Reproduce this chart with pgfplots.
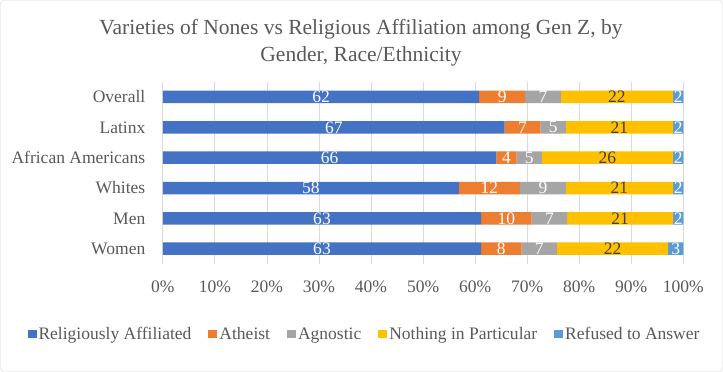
\documentclass[border=0pt]{standalone}
\usepackage{pgfplots}
\usepackage{pgfplotstable}
\pgfplotsset{compat=1.18}
\usepackage{fontspec}
\setmainfont{Liberation Serif}
\definecolor{cRel}{HTML}{4472C4}
\definecolor{cAth}{HTML}{ED7D31}
\definecolor{cAgn}{HTML}{A5A5A5}
\definecolor{cNip}{HTML}{FFC000}
\definecolor{cRef}{HTML}{5B9BD5}
\definecolor{txtgray}{HTML}{595959}
\definecolor{darktxt}{HTML}{404040}
\definecolor{gridc}{HTML}{D9D9D9}
\pgfplotstableread{
idx rel ath agn nip ref
5 62 9 7 22 2
4 67 7 5 21 2
3 66 4 5 26 2
2 58 12 9 21 2
1 63 10 7 21 2
0 63 8 7 22 3
}\data
\newcommand{\tot}{(\thisrow{rel}+\thisrow{ath}+\thisrow{agn}+\thisrow{nip}+\thisrow{ref})}
\pgfplotsset{
  common/.style={
    at={(163pt,108pt)}, anchor=south west, scale only axis,
    width=520pt, height=182pt,
    xmin=0, xmax=100, ymin=-0.5, ymax=5.5,
    /pgf/number format/assume math mode=true,
  },
}
\begin{document}
\begin{tikzpicture}
\draw[gridc, rounded corners=4pt, fill=white] (0.5pt,0.5pt) rectangle (722.5pt,371.5pt);
\node[font=\fontsize{21.5}{27}\selectfont, text=txtgray, align=center] at (361pt,328.5pt)
  {Varieties of Nones vs Religious Affiliation among Gen Z, by\\Gender, Race/Ethnicity};
\begin{axis}[common,
  xbar stacked, bar width=12.5pt,
  axis line style={draw=none},
  major tick length=0pt,
  xmajorgrids, grid style={gridc, line width=0.8pt},
  xtick={0,10,...,100},
  xticklabel={\pgfmathprintnumber{\tick}\%},
  ytick={0,1,2,3,4,5},
  yticklabels={Women,Men,Whites,African Americans,Latinx,Overall},
  tick label style={font=\fontsize{17.5}{19}\selectfont, text=txtgray},
  xticklabel style={yshift=-13pt},
  yticklabel style={xshift=-14pt},
  legend style={at={(0.3875,-0.385)}, anchor=center, draw=none, fill=none,
    legend columns=5, font=\fontsize{17.5}{19}\selectfont, text=txtgray,
    /tikz/every even column/.append style={column sep=15pt},
    /tikz/every odd column/.append style={column sep=0pt}},
  legend image code/.code={\fill[#1] (0pt,-4pt) rectangle (9pt,4pt);},
]
\addplot[fill=cRel, draw=none] table[x expr={\thisrow{rel}/\tot*100}, y=idx] {\data};
\addplot[fill=cAth, draw=none] table[x expr={\thisrow{ath}/\tot*100}, y=idx] {\data};
\addplot[fill=cAgn, draw=none] table[x expr={\thisrow{agn}/\tot*100}, y=idx] {\data};
\addplot[fill=cNip, draw=none] table[x expr={\thisrow{nip}/\tot*100}, y=idx] {\data};
\addplot[fill=cRef, draw=none] table[x expr={\thisrow{ref}/\tot*100}, y=idx] {\data};
\legend{Religiously Affiliated, Atheist, Agnostic, Nothing in Particular, Refused to Answer}
\end{axis}
\begin{axis}[common, hide axis,
  nodes near coords={\pgfmathprintnumber{\pgfplotspointmeta}},
  every node near coord/.append style={anchor=center, font=\fontsize{17.5}{19}\selectfont, inner sep=0pt},
]
\addplot[draw=none, mark=none, point meta=explicit, nodes near coords style={text=white}]
  table[x expr={\thisrow{rel}/2/\tot*100}, y=idx, meta=rel] {\data};
\addplot[draw=none, mark=none, point meta=explicit, nodes near coords style={text=white}]
  table[x expr={(\thisrow{rel}+\thisrow{ath}/2)/\tot*100}, y=idx, meta=ath] {\data};
\addplot[draw=none, mark=none, point meta=explicit, nodes near coords style={text=white}]
  table[x expr={(\thisrow{rel}+\thisrow{ath}+\thisrow{agn}/2)/\tot*100}, y=idx, meta=agn] {\data};
\addplot[draw=none, mark=none, point meta=explicit, nodes near coords style={text=darktxt}]
  table[x expr={(\thisrow{rel}+\thisrow{ath}+\thisrow{agn}+\thisrow{nip}/2)/\tot*100}, y=idx, meta=nip] {\data};
\addplot[draw=none, mark=none, point meta=explicit, nodes near coords style={text=white}]
  table[x expr={(\thisrow{rel}+\thisrow{ath}+\thisrow{agn}+\thisrow{nip}+\thisrow{ref}/2)/\tot*100}, y=idx, meta=ref] {\data};
\end{axis}
\end{tikzpicture}
\end{document}
